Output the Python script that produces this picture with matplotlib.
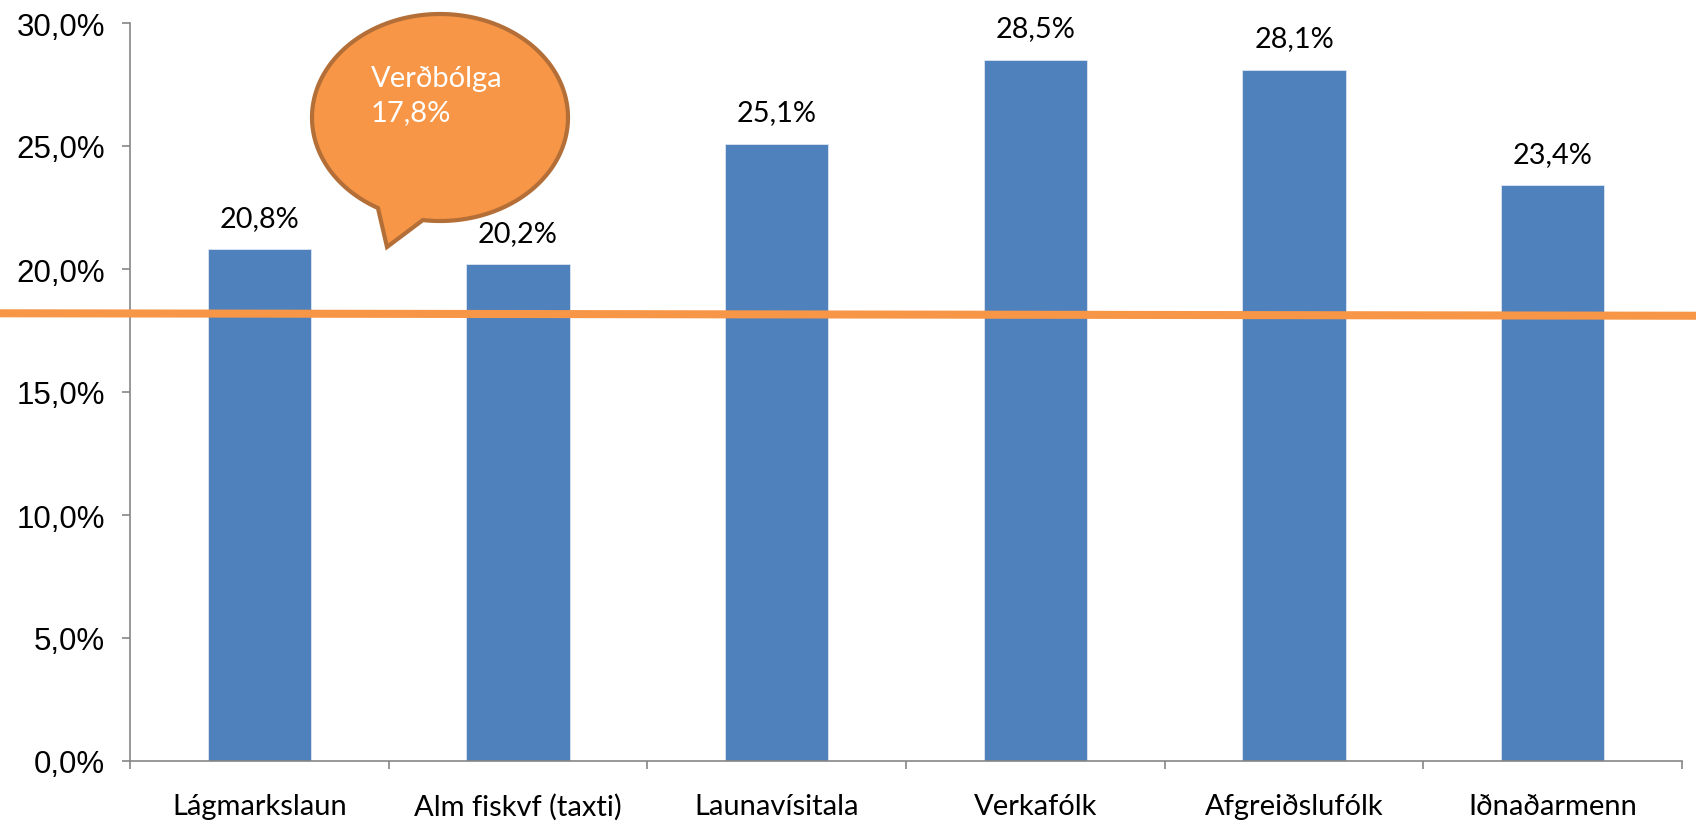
import numpy as np
import matplotlib
matplotlib.use("Agg")
import matplotlib.pyplot as plt
from matplotlib.patches import PathPatch
from matplotlib.path import Path
from matplotlib.transforms import Affine2D

categories = ["Lágmarkslaun", "Alm fiskvf (taxti)", "Launavísitala", "Verkafólk", "Afgreiðslufólk", "Iðnaðarmenn"]
values = [20.8, 20.2, 25.1, 28.5, 28.1, 23.4]
value_labels = ["20,8%", "20,2%", "25,1%", "28,5%", "28,1%", "23,4%"]
yticks = [0, 5, 10, 15, 20, 25, 30]
ytick_labels = ["0,0%", "5,0%", "10,0%", "15,0%", "20,0%", "25,0%", "30,0%"]
inflation_line = [18.2, 18.1]   # drawn level at left / right end
callout_text = "Verðbólga\n17,8%"

W, H = 1696, 829
fig = plt.figure(figsize=(W / 100, H / 100), dpi=100)
ax = fig.add_axes([130 / W, 1 - 762 / H, (1682 - 130) / W, (762 - 24) / H])

x = np.arange(len(categories))
ax.bar(x, values, width=0.4, color="#4F81BD", edgecolor="#dce6f2", linewidth=0.6, zorder=2)
for xi, v, lab in zip(x, values, value_labels):
    ax.text(xi, v + 0.75, lab, ha="center", va="bottom", fontsize=20.8, family="Lato", color="black")

ax.set_xlim(-0.5, len(categories) - 0.5)
ax.set_ylim(0, 30)
ax.set_yticks(yticks)
ax.set_yticklabels(ytick_labels, family="Liberation Sans", fontsize=22.5)
ax.set_xticks(x)
ax.set_xticklabels(categories, family="Lato", fontsize=21)
ax.set_xticks(np.arange(len(categories) + 1) - 0.5, minor=True)
ax.tick_params(axis="x", which="major", length=0, pad=23)
ax.tick_params(axis="x", which="minor", length=6, width=1.2, color="#868686", direction="out")
ax.tick_params(axis="y", length=6, width=1.2, color="#868686", direction="out", pad=12)
for s in ["top", "right"]:
    ax.spines[s].set_visible(False)
for s in ["left", "bottom"]:
    ax.spines[s].set_color("#868686")
    ax.spines[s].set_linewidth(1.2)

# inflation line across whole figure width
x_left = -0.5 - (130 / ((1682 - 130) / 6))
x_right = 5.5 + (14 / ((1682 - 130) / 6))
ax.plot([x_left, x_right], inflation_line, color="#F79646", lw=5.8, clip_on=False, zorder=3,
        solid_capstyle="butt")

# speech-bubble callout in figure pixel coordinates (y measured from top)
cx, cy, a, b = 440, 118.5, 128, 103.5
t1, t2 = np.deg2rad(97.7), np.deg2rad(119)
tip = (387, 248)
ts = np.linspace(t2, t1 + 2 * np.pi, 300)
pts = [(cx + a * np.cos(t), cy + b * np.sin(t)) for t in ts]
pts.append(tip)
pts.append(pts[0])
pts = np.array(pts)
pts[:, 1] = H - pts[:, 1]
codes = [Path.MOVETO] + [Path.LINETO] * (len(pts) - 2) + [Path.CLOSEPOLY]
path = Path(pts, codes)
patch = PathPatch(path, facecolor="#F79646", edgecolor="#B46F38", lw=3, joinstyle="miter",
                  transform=Affine2D().scale(1 / W, 1 / H) + fig.transFigure, zorder=10)
fig.patches.append(patch)
fig.text(371 / W, 1 - 96 / H, callout_text, ha="left", va="center", fontsize=21, family="Lato",
         color="white", linespacing=1.4, zorder=11)

fig.savefig("out.png", dpi=100)
